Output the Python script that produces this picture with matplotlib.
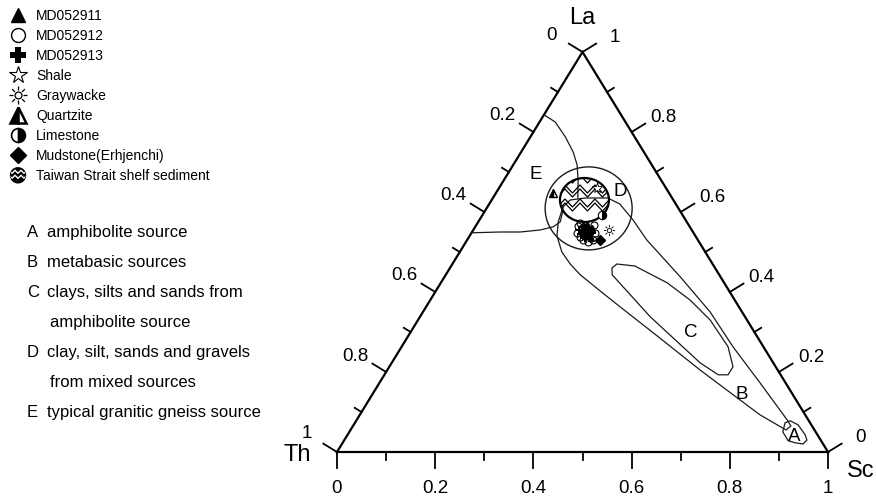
import numpy as np
import matplotlib
matplotlib.use('Agg')
import matplotlib.pyplot as plt
from matplotlib.patches import Ellipse, Circle, Polygon
from matplotlib.path import Path

plt.rcParams['font.family'] = ['Liberation Sans', 'DejaVu Sans']

# sample compositions as La and Sc fractions (Th = 1 - La - Sc)
md052911_la = [0.565, 0.560, 0.550, 0.553, 0.555, 0.540, 0.543, 0.560, 0.570, 0.548, 0.535, 0.558]
md052911_sc = [0.221, 0.231, 0.232, 0.239, 0.222, 0.235, 0.242, 0.239, 0.224, 0.227, 0.250, 0.228]

md052912_la = [0.573, 0.565, 0.548, 0.538, 0.530, 0.525, 0.530, 0.548, 0.568, 0.560]
md052912_sc = [0.209, 0.208, 0.215, 0.226, 0.236, 0.249, 0.256, 0.252, 0.240, 0.219]

md052913_la = [0.555, 0.553, 0.563, 0.545, 0.535, 0.545, 0.555, 0.548, 0.543, 0.563]
md052913_sc = [0.215, 0.227, 0.228, 0.243, 0.238, 0.224, 0.234, 0.246, 0.236, 0.220]

# average rock types
shale_la, shale_sc = [0.660], [0.200]
graywacke_la, graywacke_sc = [0.555], [0.277]
quartzite_la, quartzite_sc = [0.648], [0.116]
limestone_la, limestone_sc = [0.593], [0.243]
mudstone_la, mudstone_sc = [0.530], [0.271]

# field centres
taiwan_la, taiwan_sc = 0.630, 0.189
mixed_la, mixed_sc = 0.609, 0.208

# source field boundaries
line_e_top_la = [0.843, 0.825, 0.788, 0.750, 0.718, 0.680, 0.635]
line_e_top_sc = [0.000, 0.032, 0.071, 0.106, 0.130, 0.151, 0.173]
line_e_bot_la = [0.548, 0.550, 0.550, 0.555, 0.563, 0.575, 0.595, 0.613]
line_e_bot_sc = [0.000, 0.057, 0.098, 0.136, 0.159, 0.167, 0.161, 0.154]

field_b_la = [0.635, 0.620, 0.580, 0.530, 0.438, 0.350, 0.263, 0.173, 0.080, 0.065, 0.055, 0.093,
              0.130, 0.205, 0.285, 0.363, 0.403, 0.443, 0.470, 0.500, 0.540, 0.575, 0.613, 0.630, 0.635]
field_b_sc = [0.234, 0.266, 0.313, 0.366, 0.480, 0.585, 0.675, 0.775, 0.877, 0.892, 0.887, 0.815,
              0.756, 0.637, 0.515, 0.395, 0.334, 0.274, 0.240, 0.208, 0.178, 0.163, 0.154, 0.160, 0.188]

field_c_la = [0.460, 0.470, 0.465, 0.423, 0.380, 0.330, 0.263, 0.213, 0.193, 0.193, 0.223, 0.338, 0.443]
field_c_sc = [0.330, 0.335, 0.374, 0.461, 0.529, 0.595, 0.665, 0.700, 0.700, 0.680, 0.628, 0.469, 0.339]

field_a_la = [0.050, 0.073, 0.078, 0.068, 0.043, 0.030, 0.020, 0.023, 0.028]
field_a_sc = [0.883, 0.876, 0.884, 0.905, 0.932, 0.942, 0.939, 0.922, 0.905]

field_names = ['A', 'B', 'C', 'D', 'E']
field_label_la = [0.038, 0.145, 0.298, 0.651, 0.693]
field_label_sc = [0.912, 0.752, 0.572, 0.252, 0.059]

tick_values = [0, 0.2, 0.4, 0.6, 0.8, 1]
tick_labels = ['0', '0.2', '0.4', '0.6', '0.8', '1']

legend_labels = ['MD052911', 'MD052912', 'MD052913', 'Shale', 'Graywacke', 'Quartzite',
                 'Limestone', 'Mudstone(Erhjenchi)', 'Taiwan Strait shelf sediment']

notes = [('A', ['amphibolite source']),
         ('B', ['metabasic sources']),
         ('C', ['clays, silts and sands from', 'amphibolite source']),
         ('D', ['clay, silt, sands and gravels', 'from mixed sources']),
         ('E', ['typical granitic gneiss source'])]


def tern(la, sc):
    la = np.asarray(la, dtype=float)
    sc = np.asarray(sc, dtype=float)
    return sc + la / 2, la


def sun_path():
    parts = [Path.circle((0, 0), 0.38)]
    for a in np.deg2rad(np.arange(0, 360, 45)):
        parts.append(Path([(0.55 * np.cos(a), 0.55 * np.sin(a)), (np.cos(a), np.sin(a))]))
    return Path.make_compound_path(*parts)


SUN = sun_path()

fig = plt.figure(figsize=(8.76, 4.98), dpi=100)
ax = fig.add_axes([337 / 876, 46 / 498, 491 / 876, 400 / 498])
ax.set_xlim(0, 1)
ax.set_ylim(0, 1)
ax.axis('off')
sx, sy = ax.bbox.width, ax.bbox.height


def shift(x, y, dx, dy):
    return x + dx / sx, y + dy / sy


# triangle frame
ax.plot([0, 1, 0.5, 0], [0, 0, 1, 0], 'k-', lw=1.6, clip_on=False, solid_joinstyle='miter')

n_left = np.array([-sy, 0.5 * sx]); n_left /= np.hypot(*n_left)
n_right = np.array([sy, 0.5 * sx]); n_right /= np.hypot(*n_right)

for i in range(11):
    v = i / 10
    n = 16 if i % 2 == 0 else 8
    # Th on the left side
    x0, y0 = tern(1 - v, 0)
    x1, y1 = shift(x0, y0, *(n_left * n))
    ax.plot([x0, x1], [y0, y1], 'k-', lw=1.3, clip_on=False)
    # La on the right side
    x0, y0 = tern(v, 1 - v)
    x1, y1 = shift(x0, y0, *(n_right * n))
    ax.plot([x0, x1], [y0, y1], 'k-', lw=1.3, clip_on=False)
    # Sc on the base
    x0, y0 = tern(0, v)
    x1, y1 = shift(x0, y0, 0, -n)
    ax.plot([x0, x1], [y0, y1], 'k-', lw=1.3, clip_on=False)

for v, lab in zip(tick_values, tick_labels):
    off_left = (-30, 19) if v == 1 else (-31, 16)
    ax.annotate(lab, tern(1 - v, 0), xytext=off_left, textcoords='offset pixels',
                ha='center', va='center', fontsize=13.5)
    ax.annotate(lab, tern(v, 1 - v), xytext=(32, 15), textcoords='offset pixels',
                ha='center', va='center', fontsize=13.5)
    ax.annotate(lab, tern(0, v), xytext=(0, -36), textcoords='offset pixels',
                ha='center', va='center', fontsize=13.5)

ax.annotate('La', (0.5, 1), xytext=(0, 34), textcoords='offset pixels',
            ha='center', va='center', fontsize=17)
ax.annotate('Th', (0, 0), xytext=(-40, -3), textcoords='offset pixels',
            ha='center', va='center', fontsize=17)
ax.annotate('Sc', (1, 0), xytext=(33, -19), textcoords='offset pixels',
            ha='center', va='center', fontsize=17)

# source fields
line_kw = dict(color='#1a1a1a', lw=0.9)
for la, sc in [(field_a_la, field_a_sc), (field_b_la, field_b_sc), (field_c_la, field_c_sc)]:
    x, y = tern(la, sc)
    ax.add_patch(Polygon(np.column_stack([x, y]), closed=True, fill=False, ec='#1a1a1a', lw=0.9))
ax.plot(*tern(line_e_top_la, line_e_top_sc), **line_kw)
ax.plot(*tern(line_e_bot_la, line_e_bot_sc), **line_kw)

mx, my = tern(mixed_la, mixed_sc)
ax.add_patch(Ellipse((mx, my), 87 / sx, 83 / sy, fill=False, ec='#1a1a1a', lw=1.0))

# Taiwan Strait shelf sediment field with zigzag fill
tx, ty = tern(taiwan_la, taiwan_sc)
shelf = Ellipse((tx, ty), 49 / sx, 44 / sy, fill=False, ec='k', lw=1.6, zorder=3)
ax.add_patch(shelf)
k = np.arange(-7, 8)
zz_x = -4.5 + 7.5 * k
for top in (29, 25, 15, 11, 1, -3):
    zz_y = np.where(k % 2 == 0, top, top - 8)
    zl, = ax.plot(tx + zz_x / sx, ty + zz_y / sy, 'k-', lw=0.9, zorder=3)
    zl.set_clip_path(shelf)

for name, la, sc in zip(field_names, field_label_la, field_label_sc):
    ax.text(*tern(la, sc), name, ha='center', va='center', fontsize=13.5)

# samples
ax.plot(*tern(md052912_la, md052912_sc), 'o', mfc='none', mec='k', ms=5, mew=0.8, zorder=4)
ax.plot(*tern(md052911_la, md052911_sc), '^', color='k', ms=5, zorder=4)
ax.plot(*tern(md052913_la, md052913_sc), 'P', color='k', ms=5.5, mew=0, zorder=4)
ax.plot(*tern(shale_la, shale_sc), '*', mfc='white', mec='k', ms=8, mew=0.6, zorder=4)
ax.plot(*tern(graywacke_la, graywacke_sc), marker=SUN, ls='none', mfc='white', mec='k', ms=8, mew=0.6, zorder=4)
ax.plot(*tern(quartzite_la, quartzite_sc), '^', fillstyle='left', mfc='k', mfcalt='white', mec='k', ms=6, mew=1.0, zorder=4)
ax.plot(*tern(limestone_la, limestone_sc), 'o', fillstyle='right', mfc='k', mfcalt='white', mec='k', ms=6, mew=0.8, zorder=4)
ax.plot(*tern(mudstone_la, mudstone_sc), 'D', color='k', ms=5, zorder=4)

# legend and notes, laid out in pixels
lax = fig.add_axes([0, 0, 1, 1])
lax.set_xlim(0, 876)
lax.set_ylim(498, 0)
lax.axis('off')
lax.set_facecolor('none')

legend_styles = [
    dict(marker='^', color='k', ms=10),
    dict(marker='o', mfc='white', mec='k', ms=10, mew=1.0),
    dict(marker='P', color='k', ms=11, mew=0),
    dict(marker='*', mfc='white', mec='k', ms=13, mew=0.8),
    dict(marker=SUN, mfc='white', mec='k', ms=13, mew=0.9),
    dict(marker='^', fillstyle='left', mfc='k', mfcalt='white', mec='k', ms=11, mew=1.8),
    dict(marker='o', fillstyle='right', mfc='k', mfcalt='white', mec='k', ms=10, mew=1.2),
    dict(marker='D', color='k', ms=8),
]
for i, lab in enumerate(legend_labels):
    ly = 14.5 + 20.1 * i
    if i < len(legend_styles):
        lax.plot([18], [ly], ls='none', **legend_styles[i])
    else:
        badge = Circle((18, ly), 7.5, fc='k', ec='k', lw=1)
        lax.add_patch(badge)
        kk = np.arange(-3, 4)
        for off in (-3.5, 1.5):
            wl, = lax.plot(18 + 3 * kk, ly + off + np.where(kk % 2 == 0, 1.5, -1.5), color='white', lw=1.0)
            wl.set_clip_path(badge)
    lax.text(36, ly + 5, lab, ha='left', va='baseline', fontsize=10)

row = 0
for letter, lines in notes:
    for j, line in enumerate(lines):
        ny = 230.7 + 30.1 * row
        if j == 0:
            lax.text(27, ny + 6, letter, ha='left', va='baseline', fontsize=12)
            lax.text(47, ny + 6, line, ha='left', va='baseline', fontsize=12)
        else:
            lax.text(50, ny + 6, line, ha='left', va='baseline', fontsize=12)
        row += 1

fig.savefig('out.png', dpi=100)
